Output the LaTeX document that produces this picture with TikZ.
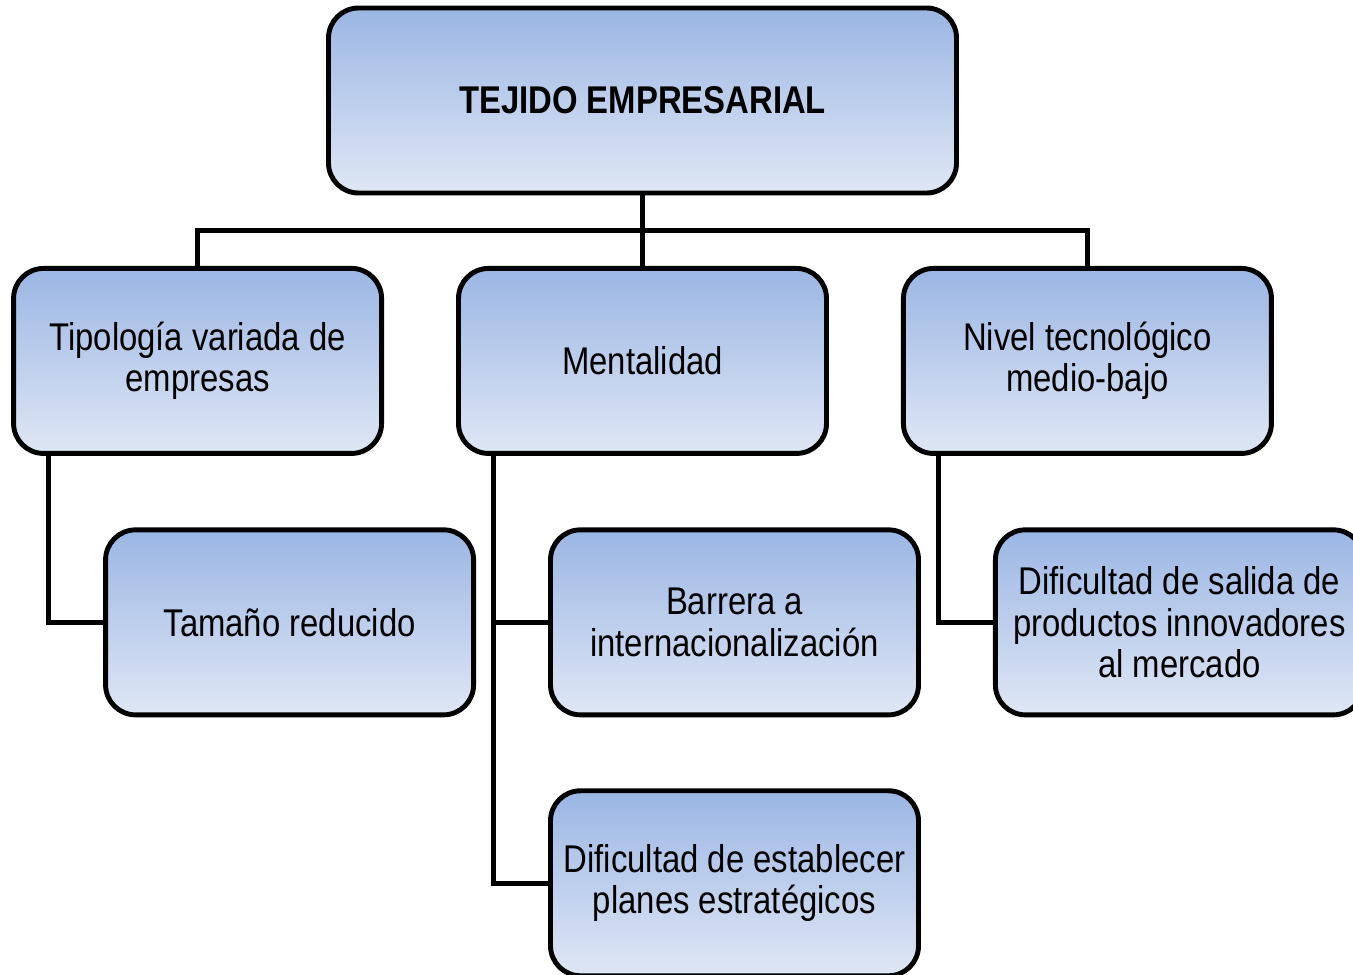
\documentclass[tikz,border=0pt]{standalone}
\usepackage{fontspec}
\setmainfont{Liberation Sans}[FakeStretch=0.85]
\usepackage{tikz}
\usetikzlibrary{positioning, calc}
\definecolor{boxtop}{RGB}{155,182,228}
\definecolor{boxbottom}{RGB}{223,231,245}

\begin{document}
\begin{tikzpicture}[boxnode/.style={rectangle, rounded corners=0.6cm, draw=black, line width=2.8pt, top color=boxtop, bottom color=boxbottom, minimum width=7.36cm, minimum height=3.7cm, align=center, font=\fontsize{22}{23.5}\selectfont}, bignode/.style={boxnode, minimum width=12.56cm, font=\fontsize{22}{23.5}\selectfont\bfseries}, node distance=1.43cm]
    \path[use as bounding box, clip] (0,0) rectangle (27.06,-19.48);
    
    %Nodes
    \node[bignode](tejido) at (12.85,-2.01){TEJIDO EMPRESARIAL};
    \node[boxnode](mental)[below=1.41cm of tejido]{Mentalidad};
    \node[boxnode](tipologia)[left=1.44cm of mental]{Tipología variada de\\empresas};
    \node[boxnode](nivel)[right=1.44cm of mental]{Nivel tecnológico\\medio-bajo};
    \node[boxnode](tamano)[below=of tipologia.south, xshift=1.84cm]{Tamaño reducido};
    \node[boxnode](barrera)[below=of mental.south, xshift=1.84cm]{Barrera a\\internacionalización};
    \node[boxnode](planes)[below=1.42cm of barrera]{Dificultad de establecer\\planes estratégicos};
    \node[boxnode](salida)[below=of nivel.south, xshift=1.84cm]{Dificultad de salida de\\productos innovadores\\al mercado};
    \coordinate (bar) at ($(tejido.south)!0.5!(mental.north)$);
    
    %Lines
    \draw[line width=2.8pt] (tejido.south) -- (mental.north);
    \draw[line width=2.8pt] (tipologia.north) |- (bar) -| (nivel.north);
    \draw[line width=2.8pt] ([xshift=0.75cm]tipologia.south west) |- (tamano.west);
    \draw[line width=2.8pt] ([xshift=0.75cm]mental.south west) |- (planes.west);
    \draw[line width=2.8pt] ([xshift=0.75cm]mental.south west |- barrera.west) -- (barrera.west);
    \draw[line width=2.8pt] ([xshift=0.75cm]nivel.south west) |- (salida.west);
    
\end{tikzpicture}
\end{document}
